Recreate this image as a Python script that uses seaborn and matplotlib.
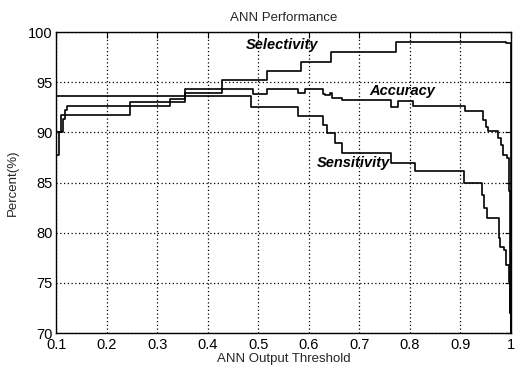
import pandas as pd
import matplotlib
matplotlib.use("Agg")
import matplotlib.pyplot as plt
import seaborn as sns

# ---------------------------------------------------------------------------
# Data (threshold breakpoints, step-post values in %)
# ---------------------------------------------------------------------------
SEL_X = [0.100, 0.104, 0.108, 0.245, 0.354, 0.427, 0.516, 0.585, 0.644,
         0.773, 0.990, 0.9995, 1.000]
SEL_Y = [87.7, 90.0, 91.7, 93.0, 94.3, 95.2, 96.1, 97.0, 98.0,
         99.0, 98.9, 98.9, 60.0]

ACC_X = [0.100, 0.113, 0.117, 0.120, 0.324, 0.354, 0.427, 0.489, 0.516,
         0.578, 0.592, 0.628, 0.632, 0.641, 0.645, 0.665, 0.763, 0.776,
         0.806, 0.909, 0.945, 0.950, 0.955, 0.975, 0.980, 0.985, 0.992,
         0.997, 0.999, 1.000]
ACC_Y = [90.0, 91.3, 92.2, 92.65, 93.3, 93.95, 94.3, 93.8, 94.3,
         93.9, 94.3, 93.8, 93.7, 93.9, 93.4, 93.2, 92.5, 93.1,
         92.6, 92.1, 91.2, 90.5, 90.1, 89.4, 88.7, 87.7, 87.4,
         84.2, 72.0, 60.0]

SEN_X = [0.100, 0.486, 0.578, 0.628, 0.636, 0.652, 0.665, 0.763, 0.810,
         0.907, 0.942, 0.947, 0.952, 0.976, 0.979, 0.987, 0.990, 0.996,
         0.999, 1.000]
SEN_Y = [93.6, 92.55, 91.6, 90.7, 89.9, 88.9, 87.95, 86.9, 86.1,
         85.0, 83.8, 82.5, 81.5, 79.5, 78.6, 78.3, 76.8, 75.1,
         72.0, 60.0]

X_TICKS = [0.1, 0.2, 0.3, 0.4, 0.5, 0.6, 0.7, 0.8, 0.9, 1.0]
X_TICK_LABELS = ["0.1", "0.2", "0.3", "0.4", "0.5", "0.6", "0.7", "0.8", "0.9", "1"]
Y_TICKS = [70, 75, 80, 85, 90, 95, 100]

# label name -> (x, y) anchor in data coords
LABELS = {
    "Selectivity": (0.546, 98.7),
    "Accuracy": (0.785, 94.1),
    "Sensitivity": (0.689, 86.9),
}

df = pd.concat([
    pd.DataFrame({"Threshold": SEL_X, "Percent": SEL_Y, "Metric": "Selectivity"}),
    pd.DataFrame({"Threshold": ACC_X, "Percent": ACC_Y, "Metric": "Accuracy"}),
    pd.DataFrame({"Threshold": SEN_X, "Percent": SEN_Y, "Metric": "Sensitivity"}),
], ignore_index=True)

sns.set_theme(style="white")
plt.rcParams["font.family"] = ["Liberation Sans", "DejaVu Sans"]
plt.rcParams["xtick.direction"] = "in"
plt.rcParams["ytick.direction"] = "in"

fig = plt.figure(figsize=(5.23, 3.70), dpi=100)
ax = fig.add_axes([0.108, 0.100, 0.869, 0.8135])

for metric in ["Selectivity", "Accuracy", "Sensitivity"]:
    sns.lineplot(
        data=df[df["Metric"] == metric],
        x="Threshold",
        y="Percent",
        estimator=None,
        drawstyle="steps-post",
        color="black",
        linewidth=1.2,
        ax=ax,
        legend=False,
    )

ax.set_xlim(0.1, 1.0)
ax.set_ylim(70, 100)
ax.set_xticks(X_TICKS)
ax.set_xticklabels(X_TICK_LABELS)
ax.set_yticks(Y_TICKS)
ax.tick_params(axis="both", labelsize=10.5, colors="black", length=4,
               width=0.8, top=True, right=True)
ax.tick_params(axis="x", pad=3.5)
ax.tick_params(axis="y", pad=3)
ax.grid(True, color="black", linestyle=(0, (1, 2)), linewidth=0.9)
for spine in ax.spines.values():
    spine.set_color("black")
    spine.set_linewidth(1.0)

ax.set_title("ANN Performance", fontsize=9.5, pad=8)
ax.set_xlabel("ANN Output Threshold", fontsize=9.5, labelpad=1)
ax.set_ylabel("Percent(%)", fontsize=9.5, labelpad=6)

for name, (lx, ly) in LABELS.items():
    ax.text(lx, ly, name, ha="center", va="center", fontsize=10.5,
            fontweight="bold", fontstyle="italic", color="black")

fig.savefig("out.png", dpi=100)
plt.close(fig)
